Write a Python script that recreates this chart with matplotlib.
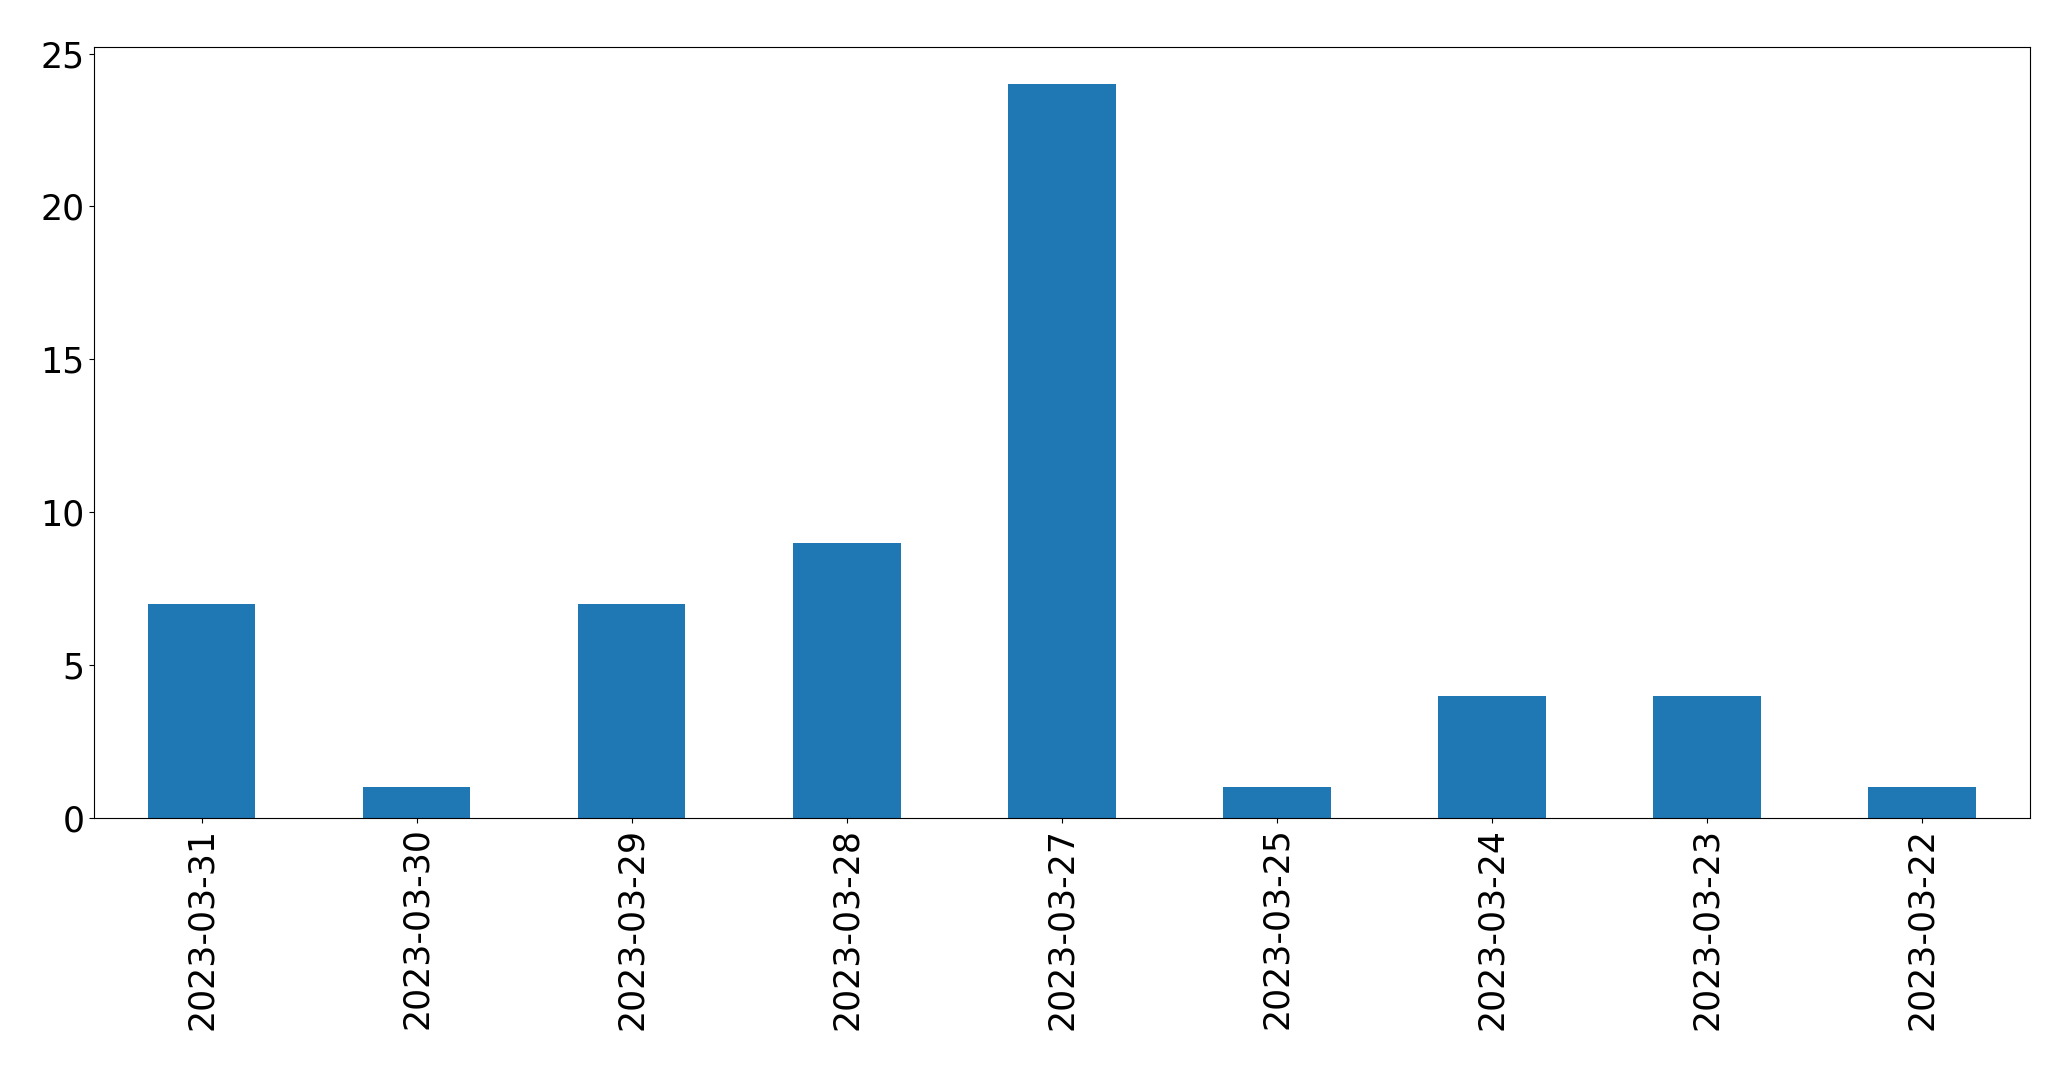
import matplotlib
matplotlib.use("Agg")
import matplotlib.pyplot as plt

dates = ["2023-03-31", "2023-03-30", "2023-03-29", "2023-03-28", "2023-03-27",
         "2023-03-25", "2023-03-24", "2023-03-23", "2023-03-22"]
counts = [7, 1, 7, 9, 24, 1, 4, 4, 1]

fig = plt.figure(figsize=(20.71, 10.69), dpi=100)
ax = fig.add_axes([0.0454, 0.235, 0.9346, 0.7206])
x = list(range(len(dates)))
ax.bar(x, counts, width=0.5, color="#1f77b4")
ax.set_xlim(-0.5, len(dates) - 0.5)
ax.set_ylim(0, max(counts) * 1.05)
ax.set_xticks(x)
ax.set_xticklabels(dates, rotation=90)
ax.tick_params(labelsize=25)
fig.savefig("out.png", dpi=100)
